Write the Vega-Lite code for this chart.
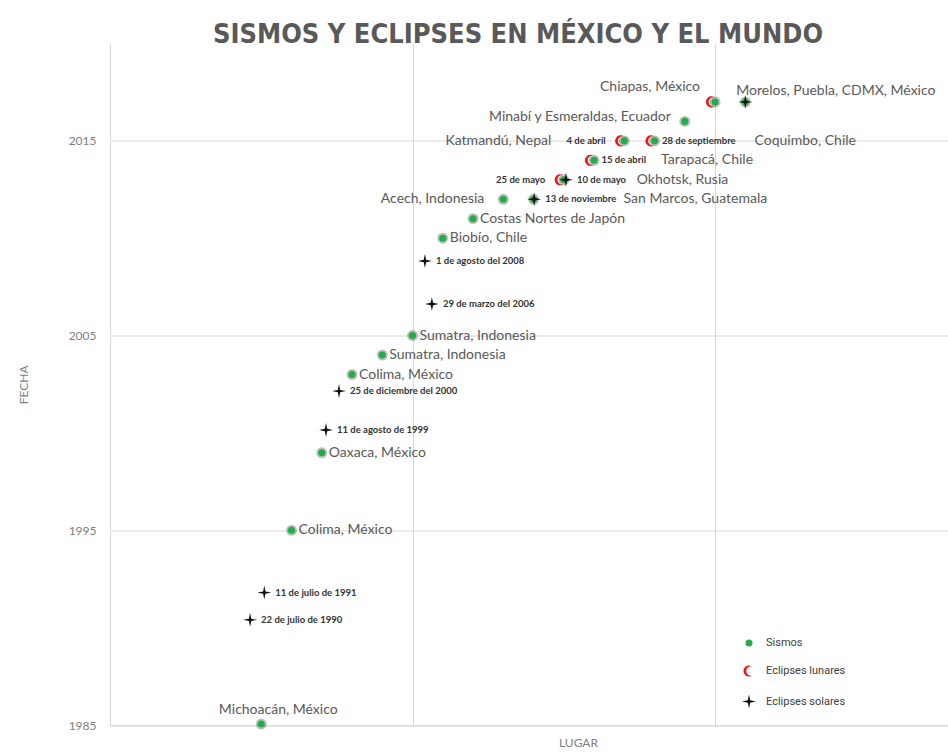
{
  "$schema": "https://vega.github.io/schema/vega-lite/v6.json",
  "width": 838,
  "height": 681.5,
  "autosize": {"type": "none"},
  "padding": {"left": 110, "top": 43.5, "right": 0, "bottom": 28},
  "background": "white",
  "config": {"view": {"stroke": null}},
  "title": {
    "text": "SISMOS Y ECLIPSES  EN MÉXICO Y EL MUNDO",
    "font": "DejaVu Sans Condensed",
    "fontWeight": "bold",
    "fontSize": 27,
    "color": "#595959",
    "anchor": "middle",
    "frame": "group",
    "dx": -11,
    "baseline": "alphabetic",
    "offset": 4,
    "dy": 30
  },
  "data": {
    "values": [
      {"tipo": "Eclipses lunares", "nombre": "25 de mayo", "lugar": 14.88, "fecha": 2013.0},
      {"tipo": "Eclipses lunares", "nombre": "15 de abril", "lugar": 15.88, "fecha": 2014.0},
      {"tipo": "Eclipses lunares", "nombre": "4 de abril", "lugar": 16.88, "fecha": 2015.0},
      {"tipo": "Eclipses lunares", "nombre": "28 de septiembre", "lugar": 17.88, "fecha": 2015.0},
      {"tipo": "Eclipses lunares", "nombre": "7 de agosto", "lugar": 19.88, "fecha": 2017.0},
      {"tipo": "Sismos", "nombre": "Michoacán, México", "lugar": 5, "fecha": 1985.05},
      {"tipo": "Sismos", "nombre": "Colima, México", "lugar": 6, "fecha": 1995.0},
      {"tipo": "Sismos", "nombre": "Oaxaca, México", "lugar": 7, "fecha": 1998.98},
      {"tipo": "Sismos", "nombre": "Colima, México ", "lugar": 8, "fecha": 2003.0},
      {"tipo": "Sismos", "nombre": "Sumatra, Indonesia", "lugar": 9, "fecha": 2004.0},
      {"tipo": "Sismos", "nombre": "Sumatra, Indonesia ", "lugar": 10, "fecha": 2005.0},
      {"tipo": "Sismos", "nombre": "Biobío, Chile", "lugar": 11, "fecha": 2010.0},
      {"tipo": "Sismos", "nombre": "Costas Nortes de Japón", "lugar": 12, "fecha": 2011.0},
      {"tipo": "Sismos", "nombre": "Acech, Indonesia", "lugar": 13, "fecha": 2012.0},
      {"tipo": "Sismos", "nombre": "San Marcos, Guatemala", "lugar": 14, "fecha": 2012.0},
      {"tipo": "Sismos", "nombre": "Okhotsk, Rusia", "lugar": 15, "fecha": 2013.0},
      {"tipo": "Sismos", "nombre": "Tarapacá, Chile", "lugar": 16, "fecha": 2014.0},
      {"tipo": "Sismos", "nombre": "Katmandú, Nepal", "lugar": 17, "fecha": 2015.0},
      {"tipo": "Sismos", "nombre": "Coquimbo, Chile", "lugar": 18, "fecha": 2015.0},
      {"tipo": "Sismos", "nombre": "Minabí y Esmeraldas, Ecuador", "lugar": 19, "fecha": 2016.0},
      {"tipo": "Sismos", "nombre": "Chiapas, México", "lugar": 20, "fecha": 2017.0},
      {"tipo": "Sismos", "nombre": "Morelos, Puebla, CDMX, México", "lugar": 21, "fecha": 2017.0},
      {"tipo": "Eclipses solares", "nombre": "22 de julio de 1990", "lugar": 4.63, "fecha": 1990.4},
      {"tipo": "Eclipses solares", "nombre": "11 de julio de 1991", "lugar": 5.1, "fecha": 1991.8},
      {"tipo": "Eclipses solares", "nombre": "11 de agosto de 1999", "lugar": 7.14, "fecha": 2000.15},
      {"tipo": "Eclipses solares", "nombre": "25 de diciembre del 2000", "lugar": 7.57, "fecha": 2002.15},
      {"tipo": "Eclipses solares", "nombre": "29 de marzo del 2006", "lugar": 10.64, "fecha": 2006.62},
      {"tipo": "Eclipses solares", "nombre": "1 de agosto del 2008", "lugar": 10.41, "fecha": 2008.83},
      {"tipo": "Eclipses solares", "nombre": "13 de noviembre", "lugar": 14.02, "fecha": 2012.0},
      {"tipo": "Eclipses solares", "nombre": "10 de mayo", "lugar": 15.07, "fecha": 2013.0},
      {"tipo": "Eclipses solares", "nombre": "21 de agosto", "lugar": 21.0, "fecha": 2017.0}
    ]
  },
  "encoding": {
    "x": {
      "field": "lugar", "type": "quantitative",
      "scale": {"domain": [0, 27.7], "nice": false, "zero": false},
      "axis": {
        "title": "LUGAR", "values": [0, 10, 20], "labels": false, "ticks": false,
        "grid": true, "gridColor": "#d9d9d9", "domainColor": "#d9d9d9",
        "titleX": 468, "titleY": 12, "titleAlign": "center", "titleBaseline": "top",
        "titleColor": "#808080", "titleFont": "Lato", "titleFontSize": 12, "titleFontWeight": "normal"
      }
    },
    "y": {
      "field": "fecha", "type": "quantitative",
      "scale": {"domain": [1985, 2020], "nice": false, "zero": false},
      "axis": {
        "title": "FECHA", "values": [1985, 1995, 2005, 2015], "format": "d",
        "grid": true, "gridColor": "#d9d9d9", "domainColor": "#d9d9d9", "ticks": false,
        "labelPadding": 14, "labelColor": "#808080", "labelFont": "Lato", "labelFontSize": 12,
        "titleColor": "#808080", "titleFont": "Lato", "titleFontSize": 12, "titleFontWeight": "normal",
        "titlePadding": 38
      }
    }
  },
  "layer": [
    {
      "transform": [{"filter": {"field": "tipo", "equal": "Sismos"}}],
      "mark": {"type": "point", "shape": "circle", "filled": true, "size": 120, "color": "#3a4a3a", "opacity": 0.35}
    },
    {
      "mark": {"type": "point", "filled": true, "opacity": 1, "strokeWidth": 0},
      "encoding": {
        "color": {
          "field": "tipo", "type": "nominal",
          "scale": {"domain": ["Sismos", "Eclipses lunares", "Eclipses solares"], "range": ["#22ad4a", "#e8191c", "#111111"]},
          "legend": {
            "orient": "none", "legendX": 631, "legendY": 594, "title": null,
            "labelFont": "Roboto", "labelFontSize": 11, "labelColor": "#404040",
            "rowPadding": 16, "labelOffset": 9, "padding": 0
          }
        },
        "shape": {
          "field": "tipo", "type": "nominal",
          "scale": {"domain": ["Sismos", "Eclipses lunares", "Eclipses solares"], "range": ["circle", "M0.571,-0.821 A1,1 0 1,0 0.571,0.821 A0.85,0.85 0 1,1 0.571,-0.821 Z", "M0,-1 L0.17,-0.17 L1,0 L0.17,0.17 L0,1 L-0.17,0.17 L-1,0 L-0.17,-0.17 Z"]}
        },
        "size": {
          "field": "tipo", "type": "nominal",
          "scale": {"domain": ["Sismos", "Eclipses lunares", "Eclipses solares"], "range": [50, 196, 210]}
        }
      }
    },
    {
      "transform": [{"filter": {"field": "nombre", "oneOf": ["Colima, México", "Oaxaca, México", "Colima, México ", "Sumatra, Indonesia", "Sumatra, Indonesia ", "Biobío, Chile", "Costas Nortes de Japón"]}}],
      "mark": {"type": "text", "align": "left", "baseline": "middle", "dx": 7, "font": "Lato", "fontSize": 14, "color": "#595959"},
      "encoding": {"text": {"field": "nombre"}}
    },
    {
      "transform": [{"filter": {"field": "nombre", "equal": "Michoacán, México"}}],
      "mark": {"type": "text", "align": "center", "baseline": "middle", "dx": 17, "dy": -14, "font": "Lato", "fontSize": 14, "color": "#595959"},
      "encoding": {"text": {"field": "nombre"}}
    },
    {
      "transform": [{"filter": {"field": "nombre", "equal": "Acech, Indonesia"}}],
      "mark": {"type": "text", "align": "right", "baseline": "middle", "dx": -19, "font": "Lato", "fontSize": 14, "color": "#595959"},
      "encoding": {"text": {"field": "nombre"}}
    },
    {
      "transform": [{"filter": {"field": "nombre", "equal": "Katmandú, Nepal"}}],
      "mark": {"type": "text", "align": "right", "baseline": "middle", "dx": -73, "font": "Lato", "fontSize": 14, "color": "#595959"},
      "encoding": {"text": {"field": "nombre"}}
    },
    {
      "transform": [{"filter": {"field": "nombre", "equal": "Chiapas, México"}}],
      "mark": {"type": "text", "align": "right", "baseline": "middle", "dx": -15, "dy": -15, "font": "Lato", "fontSize": 14, "color": "#595959"},
      "encoding": {"text": {"field": "nombre"}}
    },
    {
      "transform": [{"filter": {"field": "nombre", "equal": "Morelos, Puebla, CDMX, México"}}],
      "mark": {"type": "text", "align": "left", "baseline": "middle", "dx": -9, "dy": -11, "font": "Lato", "fontSize": 14, "color": "#595959"},
      "encoding": {"text": {"field": "nombre"}}
    },
    {
      "transform": [{"filter": {"field": "nombre", "equal": "Minabí y Esmeraldas, Ecuador"}}],
      "mark": {"type": "text", "align": "right", "baseline": "middle", "dx": -14, "dy": -4, "font": "Lato", "fontSize": 14, "color": "#595959"},
      "encoding": {"text": {"field": "nombre"}}
    },
    {
      "transform": [{"filter": {"field": "nombre", "equal": "San Marcos, Guatemala"}}],
      "mark": {"type": "text", "align": "left", "baseline": "middle", "dx": 90, "font": "Lato", "fontSize": 14, "color": "#595959"},
      "encoding": {"text": {"field": "nombre"}}
    },
    {
      "transform": [{"filter": {"field": "nombre", "equal": "Okhotsk, Rusia"}}],
      "mark": {"type": "text", "align": "left", "baseline": "middle", "dx": 73, "font": "Lato", "fontSize": 14, "color": "#595959"},
      "encoding": {"text": {"field": "nombre"}}
    },
    {
      "transform": [{"filter": {"field": "nombre", "equal": "Tarapacá, Chile"}}],
      "mark": {"type": "text", "align": "left", "baseline": "middle", "dx": 67, "font": "Lato", "fontSize": 14, "color": "#595959"},
      "encoding": {"text": {"field": "nombre"}}
    },
    {
      "transform": [{"filter": {"field": "nombre", "equal": "Coquimbo, Chile"}}],
      "mark": {"type": "text", "align": "left", "baseline": "middle", "dx": 100, "font": "Lato", "fontSize": 14, "color": "#595959"},
      "encoding": {"text": {"field": "nombre"}}
    },
    {
      "transform": [{"filter": {"field": "nombre", "oneOf": ["22 de julio de 1990", "11 de julio de 1991", "11 de agosto de 1999", "25 de diciembre del 2000", "29 de marzo del 2006", "1 de agosto del 2008", "13 de noviembre", "10 de mayo", "15 de abril", "28 de septiembre"]}}],
      "mark": {"type": "text", "align": "left", "baseline": "middle", "dx": 11, "font": "Lato", "fontSize": 9.5, "fontWeight": "bold", "color": "#333333"},
      "encoding": {"text": {"field": "nombre"}}
    },
    {
      "transform": [{"filter": {"field": "nombre", "oneOf": ["25 de mayo", "4 de abril"]}}],
      "mark": {"type": "text", "align": "right", "baseline": "middle", "dx": -15, "font": "Lato", "fontSize": 9.5, "fontWeight": "bold", "color": "#333333"},
      "encoding": {"text": {"field": "nombre"}}
    }
  ]
}
